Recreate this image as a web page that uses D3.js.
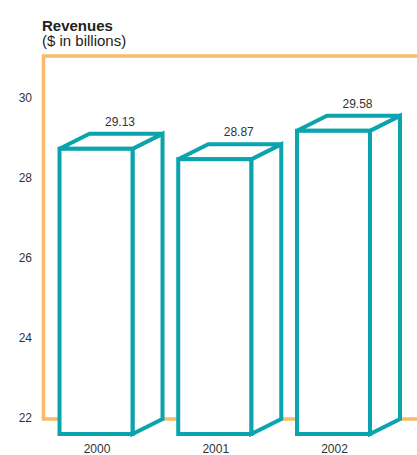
<!DOCTYPE html>
<html>
<head>
<meta charset="utf-8">
<script src="https://cdn.jsdelivr.net/npm/d3@7/dist/d3.min.js"></script>
<style>
  html, body { margin: 0; padding: 0; background: #ffffff; }
  svg { display: block; }
  text { font-family: "Liberation Sans", Arial, sans-serif; }
</style>
</head>
<body>
<svg id="chart" width="417" height="455"></svg>
<script>
const categories = ["2000", "2001", "2002"];
const revenues = [29.13, 28.87, 29.58];
const valueLabels = ["29.13", "28.87", "29.58"];
const yTicks = [22, 24, 26, 28, 30];
const yTickLabels = ["22", "24", "26", "28", "30"];
const titleText = "Revenues";
const subtitleText = "($ in billions)";

const W = 417, H = 455;
const teal = "#0aa3ae";
const orange = "#f8bb69";
const textColor = "#333333";

const svg = d3.select("#chart");

const y = d3.scaleLinear().domain([22, 31.075]).range([419, 56]);
const x = d3.scaleBand().domain(categories).range([59.5, 370]).paddingInner(0.385).paddingOuter(0);

const depthX = 30, depthY = 15;

// frame
svg.append("path")
  .attr("d", `M${W + 5},${y(y.domain()[1])} H43.5 V${y(22)} H${W + 5}`)
  .attr("fill", "none")
  .attr("stroke", orange)
  .attr("stroke-width", 3.6);

// title
svg.append("text").attr("x", 42).attr("y", 30.5)
  .attr("font-size", 15).attr("font-weight", "bold").attr("fill", "#222")
  .text(titleText);
svg.append("text").attr("x", 42).attr("y", 46)
  .attr("font-size", 15).attr("fill", "#222")
  .text(subtitleText);

// y tick labels
svg.append("g").selectAll("text").data(yTicks).join("text")
  .attr("x", 32).attr("y", d => y(d) - 1.5)
  .attr("text-anchor", "end").attr("dominant-baseline", "central")
  .attr("font-size", 12).attr("fill", textColor)
  .text((d, i) => yTickLabels[i]);

// bars
const bars = svg.append("g").selectAll("g").data(categories).join("g");
bars.each(function(c, i) {
  const g = d3.select(this);
  const xl = x(c), xr = x(c) + x.bandwidth();
  const yt = y(revenues[i]) + depthY, yb = y(22) + depthY;
  const common = sel => sel.attr("fill", "#fff").attr("stroke", teal)
    .attr("stroke-width", 4).attr("stroke-linejoin", "miter");
  // right side
  g.append("polygon").call(common)
    .attr("points", [[xr, yt], [xr + depthX, yt - depthY], [xr + depthX, yb - depthY], [xr, yb]].join(" "));
  // top
  g.append("polygon").call(common)
    .attr("points", [[xl, yt], [xl + depthX, yt - depthY], [xr + depthX, yt - depthY], [xr, yt]].join(" "));
  // front
  g.append("rect").call(common)
    .attr("x", xl).attr("y", yt).attr("width", xr - xl).attr("height", yb - yt);
  // value label
  g.append("text")
    .attr("x", (xl + xr) / 2 + 24).attr("y", y(revenues[i]) - 8)
    .attr("text-anchor", "middle").attr("font-size", 12).attr("fill", textColor)
    .text(valueLabels[i]);
  // category label
  g.append("text")
    .attr("x", (xl + xr) / 2 + 1).attr("y", 453)
    .attr("text-anchor", "middle").attr("font-size", 12).attr("fill", textColor)
    .text(c);
});
</script>
</body>
</html>
